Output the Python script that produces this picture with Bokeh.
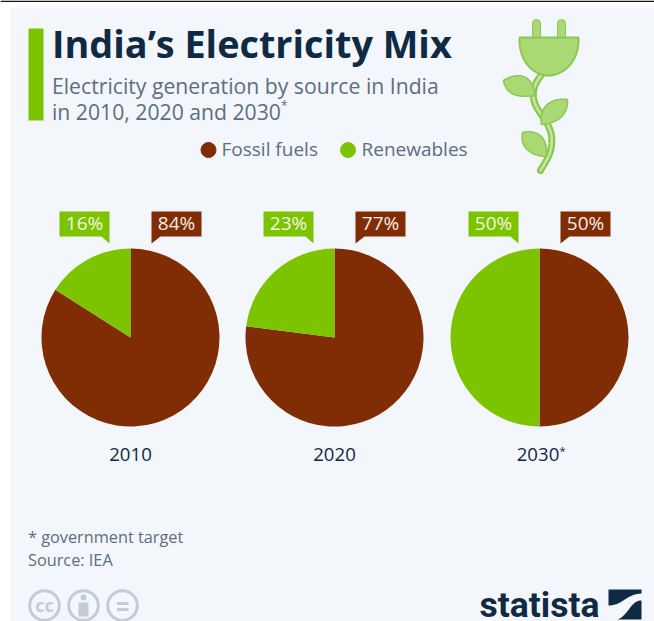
import numpy as np
from bokeh.embed import file_html
from bokeh.models import Range1d
from bokeh.plotting import figure
from bokeh.resources import INLINE
from bokeh.core.properties import value

W, H = 654, 621

# Chart data
years = ["2010", "2020", "2030*"]
fossil_share = [84, 77, 50]
renewable_share = [16, 23, 50]
legend_labels = ["Fossil fuels", "Renewables"]

FOSSIL = "#802d06"
GREEN = "#7dc400"
INK = "#0f2a43"
MUTED = "#5c6f80"
PANEL = "#f3f6fa"
PLUG = "#a9d875"
PLUG_EDGE = "#8cc850"
FONT = value("Open Sans")

p = figure(width=W, height=H, x_range=Range1d(0, W), y_range=Range1d(0, H),
           output_backend="svg", toolbar_location=None, min_border=0,
           outline_line_color=None, background_fill_color="white",
           border_fill_color="white")
p.axis.visible = False
p.grid.visible = False


def Y(v):
    """Convert a distance from the top of the page to a y coordinate."""
    return H - np.asarray(v, dtype=float)


def curve(*segments, n=24):
    """Sample cubic Bezier segments, given top-down, into x and y arrays."""
    xs, ys = [], []
    for (a, b, c, d) in segments:
        t = np.linspace(0, 1, n)[:, None]
        pts = ((1 - t) ** 3 * np.array(a) + 3 * (1 - t) ** 2 * t * np.array(b)
               + 3 * (1 - t) * t ** 2 * np.array(c) + t ** 3 * np.array(d))
        xs.extend(pts[:, 0])
        ys.extend(pts[:, 1])
    return np.array(xs), Y(ys)


def label(x, y, s, size, color=MUTED, weight="normal", align="left", font=FONT):
    """Place a text by its vertical middle, measured from the page top."""
    p.text([x], Y([y]), text=[s], text_font=font, text_font_size=f"{size}px",
           text_color=color, text_font_style=weight, text_align=align,
           text_baseline="middle")


# Page frame
p.rect([W / 2], Y([H / 2 + 3.5]), W, H - 7, fill_color=PANEL, line_color=None)
p.rect([5], Y([H / 2]), 10, H, fill_color="white", line_color=None)
p.rect([W / 2], Y([0.7]), W, 1.4, fill_color="#111111", line_color=None)

# Header
p.rect([35.5], Y([74]), 15, 92, fill_color=GREEN, line_color=None)
label(51.5, 43, "India’s Electricity Mix", 37.8, INK, "bold")
label(51.5, 84.5, "Electricity generation by source in India", 21.2)
label(51.5, 110.5, "in 2010, 2020 and 2030", 21.2)
label(280.5, 104.5, "*", 12)

# Legend
p.scatter([208], Y([149.5]), size=15, color=FOSSIL)
label(221, 148.5, legend_labels[0], 19)
p.scatter([347.5], Y([149.5]), size=15, color=GREEN)
label(361, 148.5, legend_labels[1], 19)

# Plug with a leafy stem as its cord
stem_x, stem_y = curve(((543, 72), (531, 85), (530, 98), (538, 110)),
                       ((538, 110), (546, 122), (553, 130), (551, 145)),
                       ((551, 145), (550, 155), (545, 161), (540, 170)))
p.line(stem_x, stem_y, line_color=PLUG_EDGE, line_width=7, line_cap="round")
p.line(stem_x, stem_y, line_color="#c6e6a0", line_width=2.5, line_cap="round")

leaves = [
    (((503, 80), (515, 72), (532, 72), (535, 95)),
     ((535, 95), (520, 97), (506, 96), (503, 80))),
    (((567, 99), (552, 97), (538, 105), (541, 124)),
     ((541, 124), (556, 123), (568, 115), (567, 99))),
    (((522, 132), (535, 129), (548, 135), (546, 156)),
     ((546, 156), (532, 156), (519, 148), (522, 132))),
]
for a, b in leaves:
    lx, ly = curve(a, b)
    p.patch(lx, ly, fill_color=PLUG, line_color=PLUG_EDGE, line_width=1.5)

for left, right in [(532, 540), (557, 565)]:
    p.circle([(left + right) / 2], Y([23]), radius=4, fill_color=PLUG,
             line_color=PLUG_EDGE, line_width=1)
    p.quad(left=left, right=right, top=Y(23), bottom=Y(38), fill_color=PLUG,
           line_color=None)
    p.segment([left, right], Y([23, 23]), [left, right], Y([38, 38]),
              line_color=PLUG_EDGE, line_width=1)
hx, hy = curve(((519, 37), (519, 37), (578, 37), (578, 37)),
               ((578, 37), (579, 62), (562, 75), (548, 75)),
               ((548, 75), (534, 75), (518, 62), (519, 37)))
p.patch(hx, hy, fill_color=PLUG, line_color=PLUG_EDGE, line_width=2)

# One pie per year; the fossil slice runs clockwise from twelve o'clock
centers = [130, 334, 539]
RADIUS = 89
PIE_Y = 337
for cx, fossil, renew, year in zip(centers, fossil_share, renewable_share, years):
    split = np.pi / 2 - 2 * np.pi * fossil / (fossil + renew)
    p.wedge([cx], Y([PIE_Y]), RADIUS, start_angle=split, end_angle=np.pi / 2,
            direction="anticlock", fill_color=FOSSIL, line_color=None)
    p.wedge([cx], Y([PIE_Y]), RADIUS, start_angle=np.pi / 2, end_angle=split,
            direction="anticlock", fill_color=GREEN, line_color=None)
    # Year captions; the asterisk is set smaller beside the digits
    digits = year.rstrip("*")
    if digits == year:
        label(cx, 454, year, 18.6, INK, "normal", "center")
    else:
        label(cx - 1.5, 454, digits, 18.6, INK, "normal", "center")
        label(cx + 20, 450, "*", 11, INK)

    # Speech-bubble value labels
    gl, fl = cx - 71, cx + 21
    p.patch(np.array([gl, gl + 50, gl + 50, gl + 42, gl]),
            Y([211, 211, 243, 236, 236]), fill_color=GREEN, line_color=None)
    p.patch(np.array([fl, fl + 50, fl + 50, fl + 9, fl]),
            Y([211, 211, 236, 236, 243]), fill_color=FOSSIL, line_color=None)
    label(gl + 25, 222, f"{renew}%", 19, "#f1f7e6", "normal", "center")
    label(fl + 25, 222, f"{fossil}%", 19, "#f7ece6", "normal", "center")

# Footer
label(27.5, 536, "* government target", 16.3)
label(27.5, 559, "Source: IEA", 16.3)

# Licence marks
GREY = "#c3ccd4"
for cx in [44, 83, 122]:
    p.circle([cx], Y([605]), radius=14.8, fill_color=None, line_color=GREY, line_width=3)
label(44, 604.5, "cc", 18, GREY, "bold", "center")
p.circle([83], Y([597]), radius=3, fill_color=GREY, line_color=None)
p.quad(left=78, right=88, top=Y(602), bottom=Y(616), fill_color=GREY, line_color=None)
p.quad(left=116.5, right=128, top=Y(601.5), bottom=Y(604.5), fill_color=GREY, line_color=None)
p.quad(left=116.5, right=128, top=Y(607.5), bottom=Y(610.5), fill_color=GREY, line_color=None)

# Publisher wordmark and emblem made of two dark wedges
label(479, 604.5, "statista", 35.5, INK, "bold", font=value("Roboto"))
ax, ay = curve(((608, 589), (608, 589), (641, 589), (641, 589)),
               ((641, 589), (641, 589), (641, 593), (641, 593)),
               ((641, 593), (625, 594), (622, 605), (608, 605)))
p.patch(ax, ay, fill_color=INK, line_color=None)
bx, by = curve(((641, 600), (630, 600), (628, 615), (617, 619)),
               ((617, 619), (617, 619), (641, 619), (641, 619)))
p.patch(bx, by, fill_color=INK, line_color=None)

open("out.html", "w").write(file_html(p, INLINE))
